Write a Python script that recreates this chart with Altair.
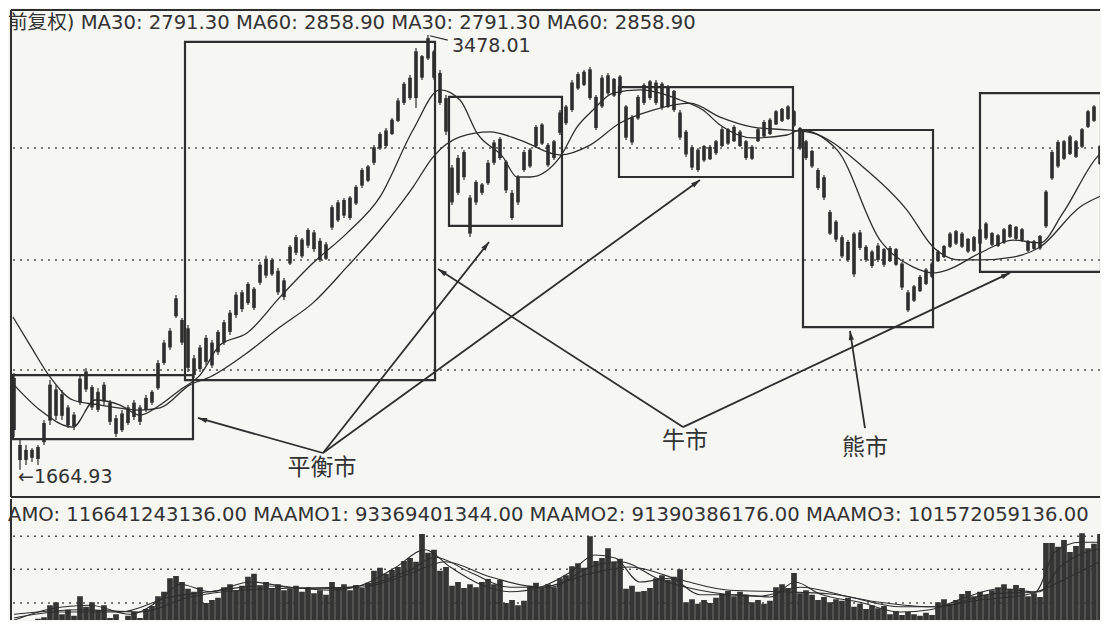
import math
import altair as alt
import pandas as pd

# ---------------- data ----------------
HIGH = [2069, 1789, 1768, 1756, 1768, 1873, 2039, 2019, 1998, 1935,
        1906, 2060, 2089, 2019, 2006, 2031, 1956, 1893, 1914, 1935,
        1956, 1935, 1977, 1998, 2123, 2206, 2256, 2394, 2298, 2269,
        2144, 2185, 2227, 2206, 2248, 2290, 2331, 2406, 2415, 2448,
        2427, 2531, 2557, 2548, 2506, 2465, 2602, 2644, 2632, 2673,
        2665, 2632, 2615, 2769, 2790, 2798, 2807, 2853, 2923, 2936,
        3019, 3074, 3090, 3132, 3215, 3282, 3311, 3424, 3395, 3478.01,
        3416, 3332, 3228, 2936, 2978, 2999, 2811, 2873, 2861, 2957,
        3040, 3053, 2957, 2832, 2894, 2999, 3007, 3103, 3111, 3028,
        3040, 3165, 3186, 3290, 3324, 3332, 3345, 3228, 3311, 3320,
        3299, 3311, 3186, 3144, 3228, 3278, 3290, 3290, 3282, 3270,
        3249, 3165, 3082, 3019, 3007, 3019, 3019, 3040, 3094, 3090,
        3103, 3082, 3040, 3019, 3090, 3124, 3132, 3165, 3174, 3186,
        3165, 3094, 3040, 2999, 2923, 2894, 2748, 2707, 2644, 2623,
        2657, 2665, 2602, 2582, 2611, 2590, 2598, 2590, 2531, 2415,
        2436, 2477, 2506, 2531, 2582, 2602, 2657, 2665, 2657, 2632,
        2640, 2673, 2698, 2657, 2648, 2673, 2690, 2682, 2673, 2623,
        2623, 2644, 2832, 2999, 3040, 3040, 3061, 3040, 3090, 3165,
        3186, 3019, 2923]
LOW = [1802, 1664.93, 1685, 1697, 1685, 1768, 1852, 1873, 1873, 1839,
       1831, 1935, 1989, 1914, 1906, 1935, 1852, 1802, 1823, 1852,
       1873, 1852, 1906, 1935, 1998, 2102, 2165, 2298, 2185, 2073,
       2048, 2073, 2102, 2089, 2144, 2185, 2227, 2298, 2323, 2352,
       2331, 2436, 2465, 2473, 2394, 2373, 2519, 2561, 2548, 2590,
       2573, 2531, 2540, 2665, 2698, 2715, 2707, 2769, 2840, 2865,
       2936, 2999, 3007, 3061, 3115, 3186, 3207, 3174, 3290, 3374,
       3290, 3186, 3061, 2769, 2811, 2873, 2636, 2769, 2811, 2853,
       2936, 2957, 2819, 2707, 2769, 2907, 2923, 3007, 3019, 2928,
       2957, 3061, 3103, 3157, 3249, 3265, 3207, 3082, 3174, 3228,
       3220, 3228, 3040, 3019, 3124, 3186, 3207, 3186, 3165, 3174,
       3157, 3040, 2969, 2915, 2907, 2948, 2957, 2978, 3011, 3019,
       3032, 3011, 2957, 2957, 3032, 3049, 3061, 3103, 3115, 3124,
       3094, 2999, 2957, 2923, 2832, 2790, 2644, 2615, 2548, 2531,
       2469, 2582, 2531, 2506, 2531, 2511, 2531, 2515, 2415, 2323,
       2365, 2406, 2436, 2465, 2531, 2548, 2590, 2602, 2590, 2569,
       2573, 2602, 2623, 2598, 2594, 2607, 2632, 2623, 2615, 2573,
       2582, 2582, 2673, 2873, 2923, 2957, 2978, 2965, 3007, 3090,
       3115, 2936, 2811]
OPEN = [2048, 1768, 1706, 1748, 1710, 1780, 1870, 2000, 1890, 1925,
        1845, 1945, 2000, 2010, 1915, 2020, 1945, 1880, 1830, 1860,
        1945, 1865, 1915, 1945, 2005, 2110, 2175, 2305, 2290, 2255,
        2060, 2085, 2115, 2195, 2155, 2195, 2240, 2310, 2405, 2360,
        2420, 2445, 2475, 2540, 2495, 2385, 2525, 2570, 2625, 2600,
        2655, 2620, 2545, 2675, 2705, 2790, 2715, 2775, 2850, 2930,
        2945, 3005, 3080, 3065, 3120, 3195, 3300, 3215, 3390, 3380,
        3410, 3320, 3215, 2925, 2820, 2990, 2800, 2780, 2855, 2860,
        2945, 3045, 2950, 2820, 2780, 2915, 3000, 3015, 3105, 3020,
        2965, 3070, 3110, 3165, 3255, 3325, 3335, 3220, 3180, 3235,
        3295, 3235, 3180, 3135, 3130, 3195, 3285, 3195, 3275, 3180,
        3245, 3155, 3075, 3010, 2915, 3015, 2960, 2985, 3015, 3085,
        3035, 3075, 3035, 2962, 3035, 3055, 3125, 3105, 3170, 3128,
        3160, 3090, 3035, 2995, 2915, 2885, 2740, 2700, 2635, 2540,
        2650, 2590, 2595, 2575, 2540, 2585, 2535, 2585, 2525, 2405,
        2370, 2410, 2440, 2470, 2535, 2598, 2595, 2660, 2595, 2628,
        2578, 2608, 2692, 2652, 2598, 2612, 2686, 2628, 2668, 2618,
        2586, 2588, 2680, 2880, 2930, 3035, 2982, 3035, 3012, 3095,
        3180, 3015, 2915]
CLOSE = [1831, 1706, 1748, 1715, 1760, 1860, 2020, 1890, 1980, 1850,
         1895, 2045, 2075, 1925, 1990, 1950, 1865, 1815, 1900, 1925,
         1885, 1925, 1965, 1990, 2110, 2195, 2245, 2380, 2195, 2090,
         2130, 2175, 2215, 2100, 2240, 2280, 2320, 2395, 2335, 2440,
         2340, 2520, 2545, 2480, 2405, 2455, 2595, 2635, 2555, 2665,
         2585, 2540, 2605, 2760, 2780, 2725, 2800, 2845, 2915, 2870,
         3010, 3065, 3015, 3125, 3205, 3275, 3215, 3410, 3300, 3465,
         3300, 3195, 3075, 2780, 2965, 2885, 2650, 2865, 2820, 2945,
         3030, 2965, 2830, 2715, 2885, 2990, 2930, 3095, 3025, 2935,
         3035, 3155, 3180, 3280, 3315, 3270, 3215, 3090, 3300, 3310,
         3225, 3305, 3050, 3030, 3220, 3270, 3215, 3280, 3175, 3260,
         3165, 3050, 2980, 2925, 3000, 2955, 3012, 3035, 3085, 3025,
         3095, 3015, 2965, 3012, 3085, 3115, 3065, 3160, 3120, 3180,
         3100, 3005, 2965, 2930, 2840, 2800, 2650, 2625, 2555, 2615,
         2480, 2655, 2540, 2515, 2600, 2520, 2590, 2520, 2425, 2330,
         2430, 2470, 2500, 2525, 2575, 2552, 2650, 2608, 2650, 2575,
         2635, 2668, 2630, 2603, 2643, 2668, 2636, 2678, 2620, 2578,
         2618, 2640, 2825, 2990, 3032, 2962, 3055, 2970, 3085, 3160,
         3120, 2940, 2815]
# turnover, in units of 1e9 yuan
AMOUNT = [16, 17, 15, 19, 23, 25, 41, 45, 29, 35,
          27, 53, 39, 45, 35, 41, 24, 29, 21, 27,
          32, 24, 36, 40, 53, 59, 77, 80, 72, 63,
          59, 65, 44, 48, 51, 65, 69, 61, 67, 79,
          83, 67, 72, 64, 69, 61, 63, 67, 59, 65,
          57, 61, 55, 72, 65, 69, 61, 68, 64, 71,
          87, 91, 83, 88, 92, 100, 104, 99, 136, 111,
          115, 87, 92, 67, 72, 64, 69, 65, 72, 76,
          69, 75, 44, 48, 41, 47, 67, 71, 64, 69,
          65, 77, 81, 93, 97, 91, 133, 100, 104, 117,
          99, 103, 63, 67, 59, 60, 64, 77, 81, 75,
          79, 89, 45, 49, 43, 48, 44, 51, 56, 60,
          53, 59, 55, 45, 48, 43, 47, 65, 69, 64,
          84, 57, 61, 55, 48, 52, 45, 49, 47, 51,
          39, 43, 36, 41, 37, 40, 29, 33, 28, 32,
          29, 27, 31, 28, 45, 49, 43, 48, 56, 60,
          53, 59, 55, 61, 65, 69, 63, 68, 64, 53,
          57, 52, 124, 124, 119, 128, 112, 120, 137, 117,
          123, 136, 115]

MA30_T = [0, 4.33, 9.83, 13.5, 17.67, 21, 24.33, 27.67, 31, 34.33,
          38.83, 44.33, 49.83, 55.5, 61, 66.5, 71, 74.33, 77.17, 81.5,
          83.83, 86, 91, 93.83, 96.5, 99.83, 104.33, 111, 114.83, 117.67,
          123.17, 128.83, 131, 137.17, 144.33, 149.83, 153.17, 155.5, 161, 166.5,
          171, 174.83, 180.5, 182.33]
MA30_P = [2019, 1914, 1843, 1956, 1935, 1893, 1935, 1998, 2060, 2185,
          2235, 2385, 2527, 2652, 2803, 3082, 3249, 3207, 3069, 2969,
          2886, 2886, 2969, 3094, 3165, 3236, 3249, 3207, 3165, 3103,
          3049, 3061, 3082, 2999, 2623, 2511, 2486, 2498, 2569, 2623,
          2611, 2736, 2969, 3011]
MA60_T = [-0.17, 2.67, 6, 9.83, 14.33, 21, 24.33, 29.33, 32.67, 38.83,
          44.33, 49.83, 55.5, 61, 66.5, 69.83, 74.33, 79.33, 84.33, 91,
          96, 101, 106.5, 112.67, 117.67, 123.17, 128.83, 133.17, 141.5, 148.83,
          153.17, 157.67, 161, 166.5, 171, 177.67, 182.33]
MA60_P = [2302, 2185, 2052, 1956, 1935, 1914, 1923, 2019, 2052, 2152,
          2260, 2361, 2511, 2665, 2844, 2969, 3053, 3074, 3040, 2978,
          3019, 3111, 3165, 3194, 3136, 3094, 3082, 3069, 2928, 2748,
          2594, 2540, 2540, 2552, 2594, 2761, 2819]

MAAMO1_T = [0, 6, 12.7, 19.3, 24.3, 27.7, 32.7, 39.3, 46, 52.7,
            57.7, 63.5, 68.5, 72.7, 77.7, 82.7, 87.7, 92.7, 96.8, 100.2,
            104.3, 109.3, 114.3, 121, 126, 130.2, 134.3, 141, 147.7, 152.7,
            157.7, 164.3, 170.2, 173.5, 177.7, 182.3]
MAAMO1_V = [21, 36, 41, 29, 48, 69, 59, 72, 65, 61,
            67, 91, 115, 92, 69, 59, 65, 85, 108, 104,
            72, 77, 55, 55, 52, 72, 56, 45, 32, 35,
            49, 63, 59, 112, 125, 125]
MAAMO2_T = [0, 7.7, 17.7, 26, 32.7, 41, 51, 59.3, 66, 70.2,
            76, 82.7, 89.3, 96, 101, 107.7, 114.3, 124.3, 131, 139.3,
            147.7, 154.3, 162.7, 171, 174.3, 182.3]
MAAMO2_V = [24, 32, 32, 52, 59, 67, 63, 69, 88, 105,
            85, 65, 65, 92, 99, 75, 61, 53, 65, 52,
            39, 39, 56, 59, 92, 119]
MAAMO3_T = [0, 11, 21, 29.3, 37.7, 47.7, 57.7, 66, 71.8, 79.3,
            87.7, 96, 102.7, 111, 119.3, 127.7, 136, 144.3, 152.7, 161,
            169.3, 176, 182.3]
MAAMO3_V = [29, 35, 32, 52, 61, 64, 65, 83, 99, 79,
            65, 83, 92, 75, 61, 59, 56, 45, 39, 48,
            56, 79, 105]

GRID_PRICE = [3007, 2540, 2081]
GRID_AMOUNT = [44, 89, 133]

BOX_T0 = [-0.17, 28.5, 72.5, 100.83, 131.5, 161]
BOX_T1 = [29.83, 70.17, 91.33, 129.83, 153.17, 181.17]
BOX_P0 = [1793, 2039, 2682, 2886, 2260, 2490]
BOX_P1 = [2060, 3449, 3220, 3261, 3082, 3236]

ARROW_T0 = [51.5, 51.5, 51.5, 111.5, 111.5, 141.83]
ARROW_P0 = [1735, 1735, 1735, 1843, 1843, 1839]
ARROW_T1 = [30.67, 79.17, 114.33, 70.67, 166, 139.33]
ARROW_P1 = [1881, 2615, 2873, 2502, 2486, 2244]

LABELS = ["平衡市", "牛市", "熊市"]
LABEL_T = [51.33, 111.83, 141.83]
LABEL_P = [1672, 1785, 1756]

PEAK_TEXT = "3478.01"
PEAK_T, PEAK_P = 73, 3432
PEAK_LEAD_T = [69.3, 72.3]
PEAK_LEAD_P = [3475, 3457]
LOW_TEXT = "\u21901664.93"
LOW_T, LOW_P = 0.67, 1635

HEAD_MAIN = "前复权) MA30: 2791.30 MA60: 2858.90 MA30: 2791.30 MA60: 2858.90"
HEAD_VOL = "AMO: 116641243136.00 MAAMO1: 93369401344.00 MAAMO2: 91390386176.00 MAAMO3: 101572059136.00"

# ---------------- layout ----------------
W = 1089
H_MAIN = 487
H_VOL = 121
T_DOM = [-0.5, -0.5 + W / 6.0]
P_DOM = [1551.5, 3582.3]
V_DOM = [21.33, 21.33 + H_VOL / 0.75]
INK = "#2e2e2e"
FONT = "DejaVu Sans, Noto Sans CJK SC"
CJK = "Noto Sans CJK SC"

xs = alt.Scale(domain=T_DOM, nice=False, zero=False)
ps = alt.Scale(domain=P_DOM, nice=False, zero=False)
vs = alt.Scale(domain=V_DOM, nice=False, zero=False)

n = len(HIGH)
candles = pd.DataFrame({"t": list(range(n)), "h": HIGH, "l": LOW,
                        "o": OPEN, "c": CLOSE, "a": AMOUNT})

def line_df(ts, vals):
    return pd.DataFrame({"t": ts, "v": vals, "k": list(range(len(ts)))})

def X(f):
    return alt.X(f, type="quantitative", scale=xs, axis=None)

def P(f):
    return alt.Y(f, type="quantitative", scale=ps, axis=None)

def V(f):
    return alt.Y(f, type="quantitative", scale=vs, axis=None)

base = alt.Chart(candles)

# panel borders (left / top / bottom of the price panel)
frame_main = alt.layer(
    alt.Chart(pd.DataFrame({"t": [T_DOM[0]]})).mark_rule(color=INK, strokeWidth=2).encode(x=X("t")),
    alt.Chart(pd.DataFrame({"p": [P_DOM[0], P_DOM[1]]})).mark_rule(color=INK, strokeWidth=2).encode(y=P("p")),
)
frame_vol = alt.Chart(pd.DataFrame({"t": [T_DOM[0]]})).mark_rule(color=INK, strokeWidth=2).encode(x=X("t"))

grid = alt.Chart(pd.DataFrame({"p": GRID_PRICE})).mark_rule(
    color="#555", strokeWidth=1.4, strokeDash=[2, 5]).encode(y=P("p"))

wick = base.mark_rule(color=INK, strokeWidth=1.2, clip=True).encode(
    x=X("t"), y=P("l"), y2="h:Q")
body = base.mark_rule(color=INK, strokeWidth=3.6, clip=True).encode(
    x=X("t"), y=P("o"), y2="c:Q")

def ma_line(ts, vals, yfun, width=1.3):
    return alt.Chart(line_df(ts, vals)).mark_line(
        color=INK, strokeWidth=width, interpolate="monotone", clip=True).encode(
        x=X("t"), y=yfun("v"), order="k:Q")

boxes = alt.Chart(pd.DataFrame({"t0": BOX_T0, "t1": BOX_T1, "p0": BOX_P0, "p1": BOX_P1})).mark_rect(
    fillOpacity=0, stroke=INK, strokeWidth=2.2, clip=True).encode(
    x=X("t0"), x2="t1:Q", y=P("p0"), y2="p1:Q")

PX_T = W / (T_DOM[1] - T_DOM[0])
PX_P = H_MAIN / (P_DOM[1] - P_DOM[0])
ang = [math.degrees(math.atan2((t1 - t0) * PX_T, (p1 - p0) * PX_P)) % 360
       for t0, p0, t1, p1 in zip(ARROW_T0, ARROW_P0, ARROW_T1, ARROW_P1)]
arrows_df = pd.DataFrame({"t0": ARROW_T0, "p0": ARROW_P0, "t1": ARROW_T1,
                          "p1": ARROW_P1, "ang": ang})
arrow_lines = alt.Chart(arrows_df).mark_rule(color=INK, strokeWidth=1.8).encode(
    x=X("t0"), x2="t1:Q", y=P("p0"), y2="p1:Q")
arrow_heads = alt.Chart(arrows_df).mark_point(
    shape="M0,0L0.55,1.9L-0.55,1.9Z", filled=True, color=INK, opacity=1,
    size=90, strokeWidth=0).encode(
    x=X("t1"), y=P("p1"), angle=alt.Angle("ang:Q", scale=None))

labels = alt.Chart(pd.DataFrame({"t": LABEL_T, "p": LABEL_P, "s": LABELS})).mark_text(
    font=CJK, fontSize=23, color="#333", align="center", baseline="middle").encode(
    x=X("t"), y=P("p"), text="s:N")

peak_lead = alt.Chart(line_df(PEAK_LEAD_T, PEAK_LEAD_P)).mark_line(
    color=INK, strokeWidth=1.2).encode(x=X("t"), y=P("v"))
price_text = alt.Chart(pd.DataFrame({"t": [PEAK_T, LOW_T], "p": [PEAK_P, LOW_P],
                                     "s": [PEAK_TEXT, LOW_TEXT]})).mark_text(
    font=FONT, fontSize=19, color="#333", align="left", baseline="middle").encode(
    x=X("t"), y=P("p"), text="s:N")

head_main = alt.Chart(pd.DataFrame({"s": [HEAD_MAIN]})).mark_text(
    font=FONT, fontSize=19.6, color="#333", align="left", baseline="middle").encode(
    x=alt.value(-3), y=alt.value(13), text="s:N")

main = alt.layer(grid, frame_main, boxes, wick, body,
                 ma_line(MA30_T, MA30_P, P), ma_line(MA60_T, MA60_P, P),
                 arrow_lines, arrow_heads, peak_lead, price_text, labels, head_main
                 ).properties(width=W, height=H_MAIN)

vgrid = alt.Chart(pd.DataFrame({"v": GRID_AMOUNT})).mark_rule(
    color="#555", strokeWidth=1.4, strokeDash=[2, 5]).encode(y=V("v"))
vbars = base.mark_rule(color="#353535", strokeWidth=5.7, clip=True).encode(
    x=X("t"), y=V("a"), y2=alt.datum(V_DOM[0]))
head_vol = alt.Chart(pd.DataFrame({"s": [HEAD_VOL]})).mark_text(
    font=FONT, fontSize=19.6, color="#333", align="left", baseline="middle").encode(
    x=alt.value(-3), y=alt.value(16), text="s:N")

vol = alt.layer(vgrid, frame_vol, vbars,
                ma_line(MAAMO1_T, MAAMO1_V, V, 1.1),
                ma_line(MAAMO2_T, MAAMO2_V, V, 1.1),
                ma_line(MAAMO3_T, MAAMO3_V, V, 1.1),
                head_vol).properties(width=W, height=H_VOL)

chart = alt.vconcat(main, vol, spacing=0).resolve_scale(
    x="independent", y="independent").properties(
    padding={"left": 0, "top": 1, "right": 0, "bottom": 0},
    background="#f6f6f3").configure_view(strokeWidth=0)

chart.save("out.html", embed_options={"renderer": "svg", "actions": False})
